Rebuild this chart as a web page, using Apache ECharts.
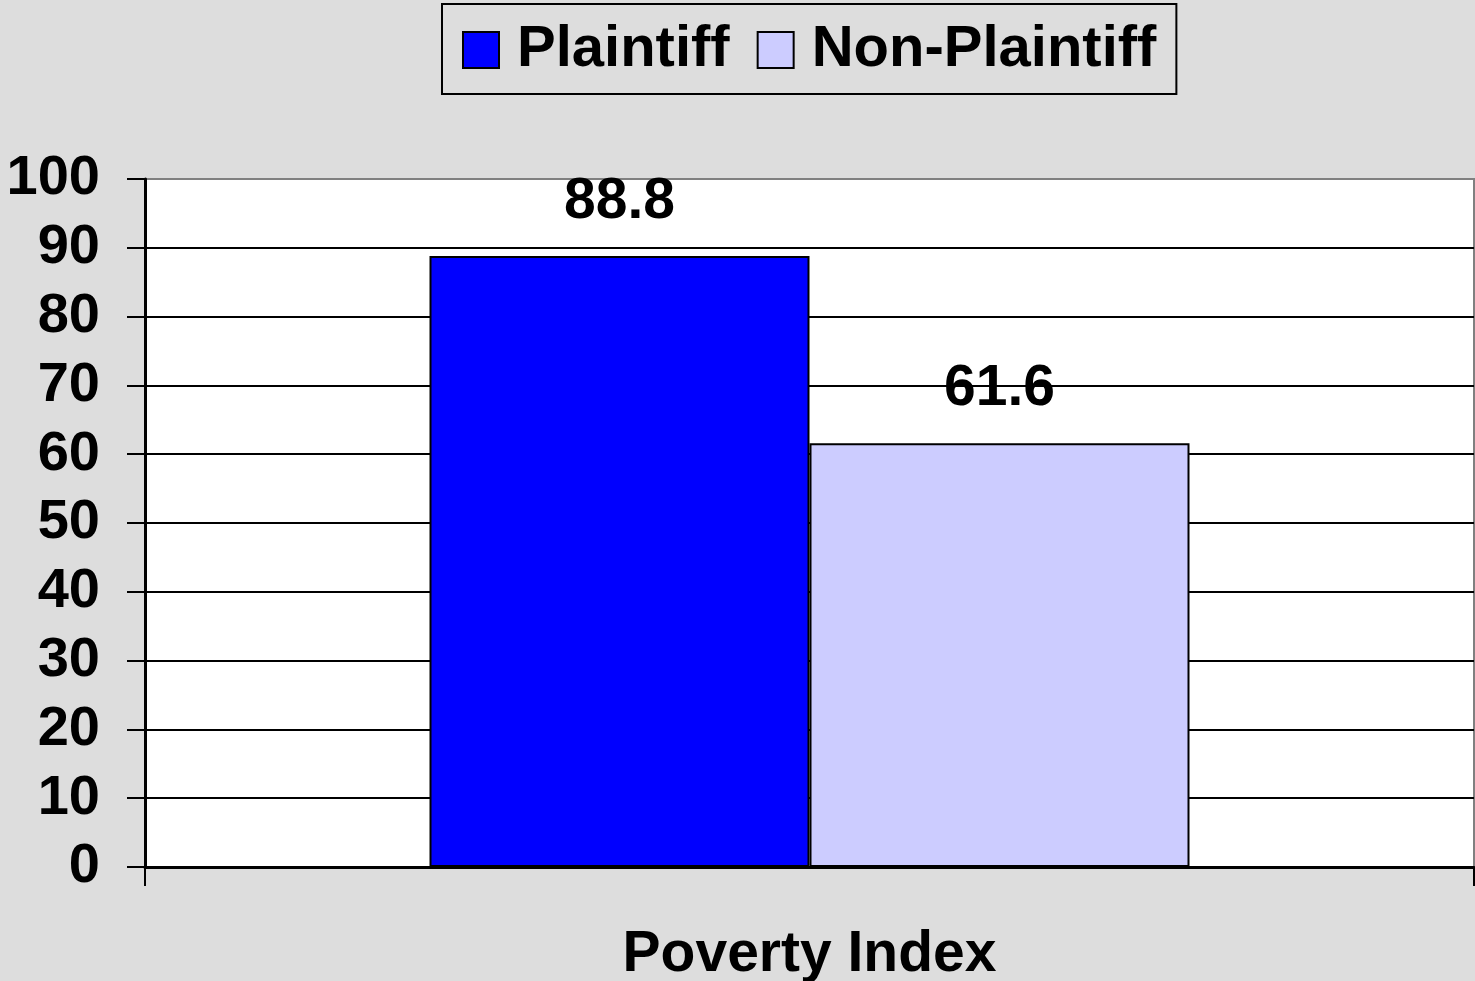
<!DOCTYPE html>
<html>
<head>
<meta charset="utf-8">
<script src="https://cdn.jsdelivr.net/npm/echarts@6/dist/echarts.min.js"></script>
<style>
  html, body { margin: 0; padding: 0; background: #dddddd; }
  #main { width: 1475px; height: 981px; }
</style>
</head>
<body>
<div id="main"></div>
<script>
// data
const categories = ['Poverty Index']
const plaintiff = [88.8]
const nonPlaintiff = [61.6]
const seriesNames = ['Plaintiff', 'Non-Plaintiff']

const font = "'Liberation Sans', Arial, sans-serif"

const myChart = echarts.init(document.getElementById('main'))

const barLabel = {
  show: true,
  position: 'top',
  distance: 25,
  color: '#000',
  fontFamily: font,
  fontWeight: 'bold',
  fontSize: 57
}

const option = {
  backgroundColor: '#dddddd',
  animation: false,
  legend: {
    left: 442,
    top: 4,
    icon: 'rect',
    itemWidth: 36,
    itemHeight: 36,
    itemGap: 27,
    padding: [16, 20, 14, 20],
    borderColor: '#000',
    borderWidth: 2,
    textStyle: {
      color: '#000',
      fontFamily: font,
      fontWeight: 'bold',
      fontSize: 58,
      lineHeight: 46,
      padding: [14, 0, 0, 13]
    },
    data: seriesNames
  },
  grid: {
    left: 145,
    right: 1,
    top: 179,
    bottom: 114,
    outerBoundsMode: 'none',
    show: true,
    backgroundColor: '#fff',
    borderColor: '#808080',
    borderWidth: 2
  },
  xAxis: {
    type: 'category',
    data: categories,
    name: categories[0],
    nameLocation: 'middle',
    nameGap: 60,
    nameTextStyle: {
      color: '#000',
      fontFamily: font,
      fontWeight: 'bold',
      fontSize: 57
    },
    axisLine: { lineStyle: { color: '#000', width: 3 } },
    axisTick: { show: true, length: 19, lineStyle: { color: '#000', width: 2 } },
    axisLabel: { show: false }
  },
  yAxis: {
    type: 'value',
    min: 0,
    max: 100,
    interval: 10,
    axisLine: { show: true, lineStyle: { color: '#000', width: 3 } },
    axisTick: { show: true, length: 18, lineStyle: { color: '#000', width: 2 } },
    axisLabel: {
      margin: 45,
      color: '#000',
      fontFamily: font,
      fontWeight: 'bold',
      fontSize: 56
    },
    splitLine: {
      show: true,
      showMaxLine: false,
      lineStyle: { color: '#000', width: 2 }
    }
  },
  series: [
    {
      name: seriesNames[0],
      type: 'bar',
      data: plaintiff,
      barWidth: 380,
      barGap: 0,
      itemStyle: { color: '#0000ff', borderColor: '#000', borderWidth: 2 },
      label: barLabel
    },
    {
      name: seriesNames[1],
      type: 'bar',
      data: nonPlaintiff,
      barWidth: 380,
      barGap: 0,
      itemStyle: { color: '#ccccff', borderColor: '#000', borderWidth: 2 },
      label: barLabel
    }
  ]
}

myChart.setOption(option)
</script>
</body>
</html>
